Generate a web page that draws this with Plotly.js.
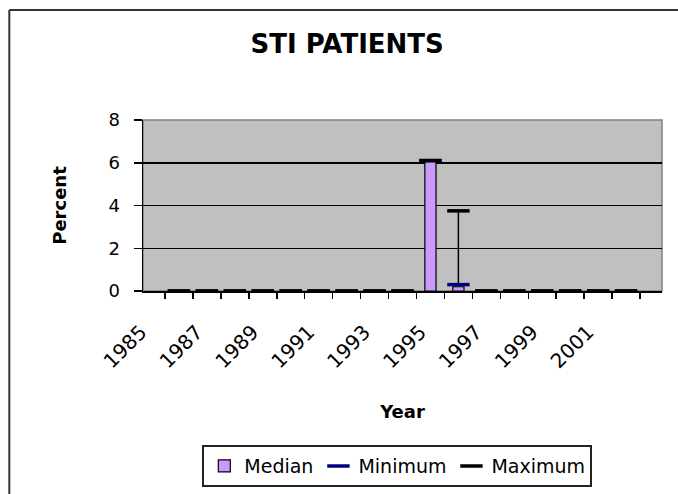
<!DOCTYPE html>
<html>
<head>
<meta charset="utf-8">
<script src="https://cdn.plot.ly/plotly-3.0.1.min.js"></script>
<style>
  html, body { margin: 0; padding: 0; background: #ffffff; overflow: hidden; }
  #chart { width: 678px; height: 494px; overflow: hidden; }
</style>
</head>
<body>
<div id="chart"></div>
<script>
// Data
var years = ['1985','1986','1987','1988','1989','1990','1991','1992','1993',
             '1994','1995','1996','1997','1998','1999','2000','2001'];
var medianValues  = [0,0,0,0,0,0,0,0,0,6.1,0.2,0,0,0,0,0,0];
var minimumValues = [0,0,0,0,0,0,0,0,0,6.1,0.3,0,0,0,0,0,0];
var maximumValues = [0,0,0,0,0,0,0,0,0,6.1,3.75,0,0,0,0,0,0];
var yearTickLabels = ['1985','','1987','','1989','','1991','','1993',
                      '','1995','','1997','','1999','','2001'];

// high-low line length (from maximum down to minimum)
var highLowSpan = maximumValues.map(function (v, i) { return v - minimumValues[i]; });
var zeros = maximumValues.map(function () { return 0; });

var FONT = 'DejaVu Sans, Liberation Sans, Arial, sans-serif';

var traces = [
  {
    type: 'bar',
    name: 'Median',
    x: years,
    y: medianValues,
    marker: { color: '#CC99FF', line: { color: '#000000', width: 1.2 } },
    hoverinfo: 'x+y'
  },
  {
    type: 'scatter',
    mode: 'markers',
    name: 'Minimum',
    x: years,
    y: minimumValues,
    cliponaxis: false,
    marker: { symbol: 'line-ew', size: 16, color: '#000080', line: { color: '#000080', width: 3.5 } }
  },
  {
    type: 'scatter',
    mode: 'markers',
    name: 'Maximum',
    x: years,
    y: maximumValues,
    cliponaxis: false,
    marker: { symbol: 'line-ew', size: 16, color: '#000000', line: { color: '#000000', width: 3.5 } },
    error_y: {
      type: 'data', symmetric: false,
      array: zeros, arrayminus: highLowSpan,
      width: 0, thickness: 1.5, color: '#000000'
    }
  }
];

var layout = {
  width: 678,
  height: 494,
  margin: { l: 143, r: 16, t: 120, b: 203, pad: 0, autoexpand: false },
  paper_bgcolor: '#ffffff',
  plot_bgcolor: '#C0C0C0',
  font: { family: FONT, color: '#000000', size: 18 },
  showlegend: true,
  bargap: 0.6,
  title: {
    text: '<b>STI PATIENTS</b>',
    font: { family: FONT, size: 26, color: '#000000' },
    xref: 'container', x: 0.512, xanchor: 'center',
    yref: 'container', y: 0.911, yanchor: 'middle'
  },
  xaxis: {
    type: 'category',
    tickmode: 'array',
    tickvals: years,
    ticktext: yearTickLabels,
    tickangle: -45,
    tickson: 'boundaries',
    ticks: 'outside',
    ticklen: 6,
    tickwidth: 1.5,
    tickcolor: '#000000',
    ticklabelstandoff: 20,
    ticklabelshift: -38,
    tickfont: { family: FONT, size: 20, color: '#000000' },
    showline: true,
    linecolor: '#000000',
    linewidth: 1.5,
    showgrid: false,
    zeroline: false,
    fixedrange: true,
    title: { text: '<b>Year</b>', font: { family: FONT, size: 18, color: '#000000' }, standoff: 33 }
  },
  yaxis: {
    range: [0, 8],
    dtick: 2,
    tick0: 0,
    ticks: 'outside',
    ticklen: 8,
    tickwidth: 1.5,
    tickcolor: '#000000',
    ticklabelstandoff: 10,
    tickfont: { family: FONT, size: 18, color: '#000000' },
    showline: true,
    linecolor: '#000000',
    linewidth: 1.5,
    showgrid: true,
    gridcolor: '#000000',
    gridwidth: 1.5,
    zeroline: false,
    fixedrange: true,
    title: { text: '<b>Percent</b>', font: { family: FONT, size: 18, color: '#000000' }, standoff: 37 }
  },
  legend: {
    orientation: 'h',
    xref: 'container', x: 0.586, xanchor: 'center',
    yref: 'container', y: 0.099, yanchor: 'top',
    bgcolor: '#ffffff',
    bordercolor: '#222222',
    borderwidth: 2,
    font: { family: FONT, size: 19, color: '#000000' },
    itemwidth: 30,
    traceorder: 'normal'
  },
  shapes: [
    // plot area border (grey top/right edges)
    { type: 'rect', xref: 'paper', yref: 'paper', x0: 0, x1: 1, y0: 0, y1: 1,
      line: { color: '#808080', width: 1.5 }, fillcolor: 'rgba(0,0,0,0)', layer: 'below' },
    // chart outer frame: only top and left edges are inside the picture
    { type: 'line', xref: 'paper', yref: 'paper', x0: -0.2576, x1: 1.035, y0: 1.644, y1: 1.644,
      line: { color: '#333333', width: 2 }, layer: 'below' },
    { type: 'line', xref: 'paper', yref: 'paper', x0: -0.2576, x1: -0.2576, y0: -1.19, y1: 1.644,
      line: { color: '#333333', width: 2 }, layer: 'below' }
  ]
};

Plotly.newPlot('chart', traces, layout, { displayModeBar: false, staticPlot: true });
</script>
</body>
</html>
